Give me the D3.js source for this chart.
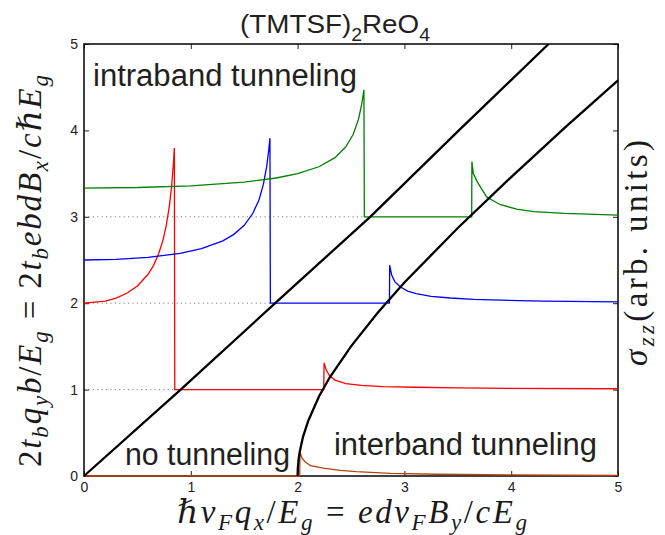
<!DOCTYPE html>
<html><head><meta charset="utf-8">
<script src="https://cdn.jsdelivr.net/npm/d3@7"></script>
<style>body{margin:0;background:#fff}</style>
</head><body>
<svg id="chart" width="665" height="535"></svg>
<script>
// ---- data ----
const xTicks = [0, 1, 2, 3, 4, 5];
const yTicks = [0, 1, 2, 3, 4, 5];

// boundary lines (black)
const intraX = [0, 0.905, 1.79, 2.68, 3.51, 4.35];
const intraY = [0, 1, 2, 3, 4, 5];
const interX = [2.0, 2.002, 2.01, 2.02, 2.05, 2.1, 2.2, 2.3, 2.5, 2.75, 3.0, 3.5, 4.0, 4.5, 5.0];
const interY = [0, 0.09, 0.2, 0.28, 0.45, 0.64, 0.92, 1.14, 1.5, 1.89, 2.24, 2.87, 3.46, 4.03, 4.58];

// sigma_zz curves (offset)
const redX = [0, 0.2, 0.3, 0.4, 0.5, 0.6, 0.65, 0.7, 0.74, 0.77, 0.8, 0.82, 0.835, 0.846, 0.85, 2.245, 2.248, 2.27, 2.3, 2.35, 2.45, 2.6, 2.8, 3.1, 3.5, 4.0, 5.0];
const redY = [2.0, 2.025, 2.06, 2.115, 2.2, 2.335, 2.435, 2.575, 2.733, 2.898, 3.13, 3.35, 3.58, 3.795, 1.0, 1.0, 1.31, 1.22, 1.16, 1.11, 1.07, 1.05, 1.035, 1.027, 1.02, 1.015, 1.01];

const blueX = [0, 0.3, 0.6, 0.9, 1.1, 1.3, 1.4, 1.5, 1.58, 1.64, 1.68, 1.71, 1.73, 1.741, 1.745, 2.86, 2.862, 2.88, 2.91, 2.96, 3.03, 3.11, 3.25, 3.43, 3.65, 3.9, 4.3, 5.0];
const blueY = [2.5, 2.507, 2.53, 2.577, 2.631, 2.722, 2.794, 2.901, 3.038, 3.2, 3.377, 3.577, 3.774, 3.91, 2.0, 2.0, 2.44, 2.33, 2.25, 2.19, 2.14, 2.11, 2.08, 2.06, 2.045, 2.035, 2.025, 2.015];

const greenX = [0, 0.5, 1.0, 1.5, 1.8, 2.0, 2.2, 2.35, 2.45, 2.52, 2.57, 2.6, 2.615, 2.621, 2.625, 3.63, 3.632, 3.645, 3.68, 3.71, 3.77, 3.84, 3.9, 4.05, 4.21, 4.5, 5.0];
const greenY = [3.333, 3.339, 3.359, 3.402, 3.449, 3.499, 3.579, 3.685, 3.807, 3.953, 4.129, 4.30, 4.42, 4.47, 3.0, 3.0, 3.64, 3.50, 3.41, 3.35, 3.23, 3.18, 3.14, 3.09, 3.06, 3.04, 3.02];

const brownX = [0, 2.02, 2.022, 2.04, 2.07, 2.12, 2.24, 2.4, 2.55, 2.87, 3.3, 4.0, 5.0];
const brownY = [0, 0, 0.28, 0.21, 0.165, 0.12, 0.09, 0.065, 0.05, 0.03, 0.02, 0.012, 0.006];

// dotted reference levels and where they end
const gridLevels = [1, 2, 3];
const gridEnds = [0.85, 1.745, 2.625];

// texts
const titleParts = [{t: "(TMTSF)"}, {t: "2", sub: 1}, {t: "ReO"}, {t: "4", sub: 1}];
const regionLabels = ["intraband tunneling", "no tunneling", "interband tunneling"];
const xLabelParts = [{t:"ℏ"},{t:"v",i:1},{t:"F",i:1,sub:1},{t:"q",i:1},{t:"x",i:1,sub:1},{t:"/"},{t:"E",i:1},{t:"g",i:1,sub:1},{t:" = "},{t:"edv",i:1},{t:"F",i:1,sub:1},{t:"B",i:1},{t:"y",i:1,sub:1},{t:"/"},{t:"cE",i:1},{t:"g",i:1,sub:1}];
const yLabelParts = [{t:"2"},{t:"t",i:1},{t:"b",i:1,sub:1},{t:"q",i:1},{t:"y",i:1,sub:1},{t:"b",i:1},{t:"/"},{t:"E",i:1},{t:"g",i:1,sub:1},{t:" = 2"},{t:"t",i:1},{t:"b",i:1,sub:1},{t:"ebdB",i:1},{t:"x",i:1,sub:1},{t:"/"},{t:"c",i:1},{t:"ℏ"},{t:"E",i:1},{t:"g",i:1,sub:1}];
const rLabelParts = [{t:"σ",i:1},{t:"zz",i:1,sub:1},{t:"(arb. units)"}];

// ---- drawing ----
const svg = d3.select("#chart");
const L = 84, R = 618, T = 44, B = 476;
const x = d3.scaleLinear().domain([0, 5]).range([L, R]);
const y = d3.scaleLinear().domain([0, 5]).range([B, T]);
const zip = (a, b) => a.map((v, i) => [v, b[i]]);
const line = d3.line().x(d => x(d[0])).y(d => y(d[1]));
const sans = "'Liberation Sans', Arial, Helvetica, sans-serif";
const serif = "'Liberation Serif', 'Times New Roman', 'DejaVu Serif', serif";

svg.append("defs").append("clipPath").attr("id", "clip")
  .append("rect").attr("x", L - 2).attr("y", T).attr("width", R - L + 4).attr("height", B - T + 2);

// dotted levels
svg.append("g").selectAll("line").data(gridLevels).join("line")
  .attr("x1", x(0)).attr("x2", (d, i) => x(gridEnds[i]))
  .attr("y1", d => y(d)).attr("y2", d => y(d))
  .attr("stroke", "#808080").attr("stroke-width", 1).attr("stroke-dasharray", "1.2,3.2");

// axes (ticks inward)
function styleAxis(g) {
  g.select(".domain").remove();
  g.selectAll(".tick line").attr("stroke", "#222").attr("stroke-width", 1);
  g.selectAll(".tick text").attr("font-family", sans).attr("font-size", 14).attr("fill", "#222");
}
svg.append("g").attr("transform", `translate(0,${B})`)
  .call(d3.axisBottom(x).tickValues(xTicks).tickFormat(d3.format("d")).tickSizeInner(-5).tickSizeOuter(0).tickPadding(6))
  .call(styleAxis);
svg.append("g").attr("transform", `translate(${L},0)`)
  .call(d3.axisLeft(y).tickValues(yTicks).tickFormat(d3.format("d")).tickSizeInner(-5).tickSizeOuter(0).tickPadding(6))
  .call(styleAxis);
svg.append("g").attr("transform", `translate(0,${T})`)
  .call(d3.axisTop(x).tickValues(xTicks).tickFormat("").tickSizeInner(-5).tickSizeOuter(0))
  .call(styleAxis);
svg.append("g").attr("transform", `translate(${R},0)`)
  .call(d3.axisRight(y).tickValues(yTicks).tickFormat("").tickSizeInner(-5).tickSizeOuter(0))
  .call(styleAxis);

// frame
svg.append("rect").attr("x", L).attr("y", T).attr("width", R - L).attr("height", B - T)
  .attr("fill", "none").attr("stroke", "#111").attr("stroke-width", 1.6);

// curves
const plot = svg.append("g").attr("clip-path", "url(#clip)");
const series = [
  {X: brownX, Y: brownY, c: "#b5420e"},
  {X: redX, Y: redY, c: "#ff0000"},
  {X: blueX, Y: blueY, c: "#0000ff"},
  {X: greenX, Y: greenY, c: "#008000"}
];
series.forEach(s => plot.append("path").attr("d", line(zip(s.X, s.Y)))
  .attr("fill", "none").attr("stroke", s.c).attr("stroke-width", 1.3).attr("stroke-linejoin", "miter"));
[[intraX, intraY], [interX, interY]].forEach(([X, Y]) =>
  plot.append("path").attr("d", line(zip(X, Y)))
    .attr("fill", "none").attr("stroke", "#000").attr("stroke-width", 2.3));

// region labels
const regPos = [[93, 86, 264], [125, 465, 165], [334, 455, 263]];
svg.append("g").selectAll("text").data(regionLabels).join("text")
  .attr("x", (d, i) => regPos[i][0]).attr("y", (d, i) => regPos[i][1])
  .attr("textLength", (d, i) => regPos[i][2]).attr("lengthAdjust", "spacingAndGlyphs")
  .attr("font-family", sans).attr("font-size", 31).attr("fill", "#231f20").text(d => d);

// rich text helper
function rich(g, parts, size, family, subScale, subShift) {
  const t = g.append("text").attr("font-family", family).attr("font-size", size).attr("fill", "#1a1a1a");
  let cur = 0;
  parts.forEach(p => {
    const s = t.append("tspan").text(p.t).attr("xml:space", "preserve");
    if (p.i) s.attr("font-style", "italic");
    const target = p.sub ? size * subShift : 0;
    if (target !== cur) s.attr("dy", target - cur);
    cur = target;
    if (p.sub) s.attr("font-size", size * subScale);
  });
  return t;
}

// title
rich(svg, titleParts, 26, sans, 0.7, 0.3)
  .attr("x", 335).attr("y", 33).attr("text-anchor", "middle").attr("fill", "#231f20")
  .attr("textLength", 190).attr("lengthAdjust", "spacingAndGlyphs");

// x label
rich(svg, xLabelParts, 33, serif, 0.7, 0.22)
  .attr("x", 352).attr("y", 523).attr("text-anchor", "middle")
  .attr("textLength", 350).attr("lengthAdjust", "spacing");

// y label
rich(svg, yLabelParts, 33, serif, 0.7, 0.22)
  .attr("text-anchor", "middle").attr("transform", "translate(41,271) rotate(-90)")
  .attr("textLength", 392).attr("lengthAdjust", "spacing");

// right label
rich(svg, rLabelParts, 33, serif, 0.7, 0.22)
  .attr("text-anchor", "middle").attr("transform", "translate(647,253) rotate(-90)")
  .attr("textLength", 226).attr("lengthAdjust", "spacing");
</script>
</body></html>
